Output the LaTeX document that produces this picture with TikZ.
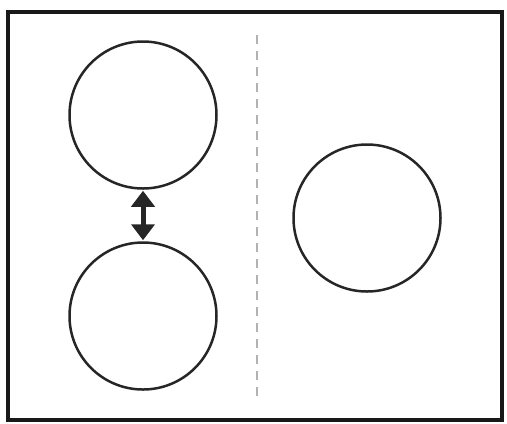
\documentclass[tikz,border=0pt]{standalone}
\usetikzlibrary{arrows.meta}
\begin{document}
\begin{tikzpicture}[x=1bp,y=-1bp,
  ball/.style={circle,draw=black!85,line width=2.5bp,minimum size=147bp,inner sep=0pt},
  frame/.style={draw=black!90,line width=4.5bp},
  divider/.style={draw=black!30,line width=1.2bp,dash pattern=on 9bp off 7bp},
  bothway/.style={line width=5bp,black!85,{Triangle[width=23bp,length=16bp]}-{Triangle[width=23bp,length=16bp]},shorten <=1bp,shorten >=1bp}]
\useasboundingbox (0,0) rectangle (507,423);
\draw[frame] (8,12) rectangle (502,420);
\node[ball] (top) at (143,115) {};
\node[ball] (bot) at (143,316) {};
\node[ball] (right) at (367,218) {};
\coordinate (dtop) at (257,35);
\coordinate (dbot) at (257,399);
\draw[divider] (dtop) -- (dbot);
\draw[bothway] (top.south) -- (bot.north);
\end{tikzpicture}
\end{document}
